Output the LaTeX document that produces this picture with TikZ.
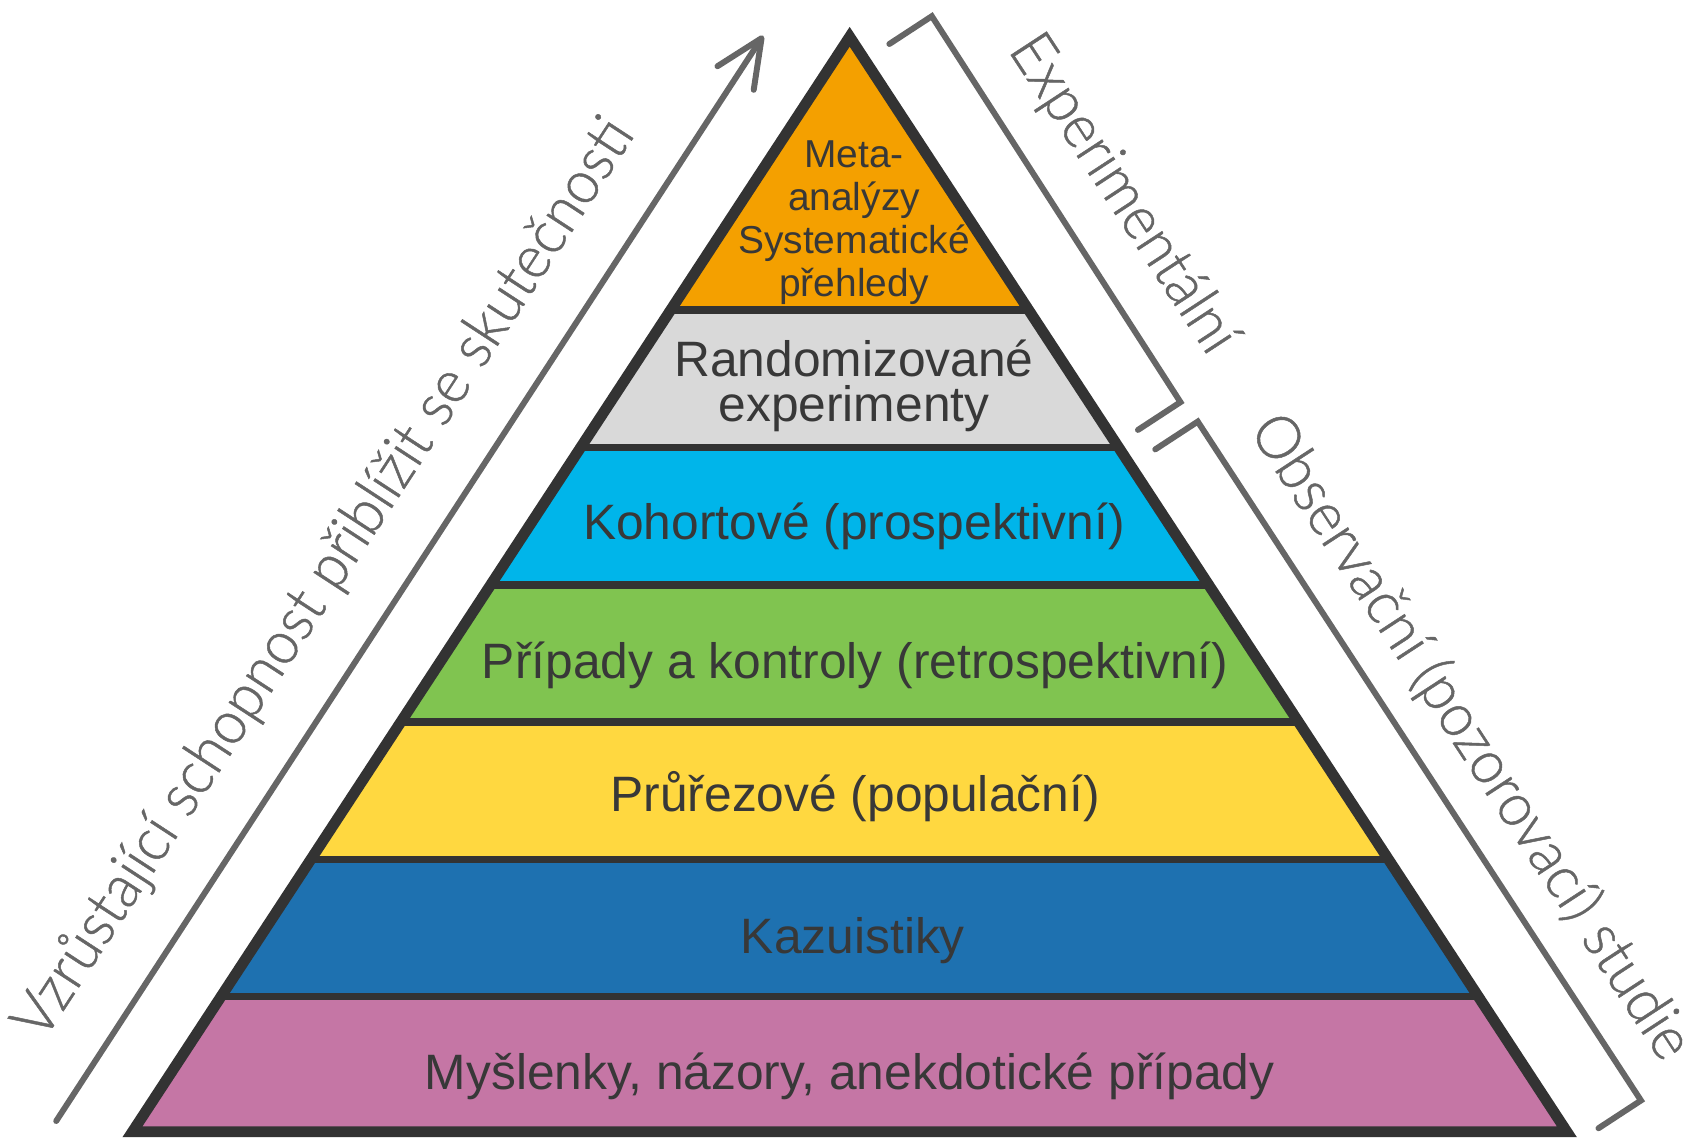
\documentclass[tikz,border=0pt]{standalone}
\usepackage{fontspec}
\setmainfont{Liberation Sans}
\newfontfamily\sidefont[FakeStretch=0.95,FakeBold=0.8]{Lato Light}
\usetikzlibrary{arrows.meta}
\definecolor{cOrange}{HTML}{F4A000}
\definecolor{cGray}{HTML}{D9D9D9}
\definecolor{cCyan}{HTML}{00B5EA}
\definecolor{cGreen}{HTML}{80C450}
\definecolor{cYellow}{HTML}{FFD840}
\definecolor{cBlue}{HTML}{1E71B0}
\definecolor{cPink}{HTML}{C576A5}
\definecolor{cStroke}{HTML}{333333}
\definecolor{cText}{HTML}{383838}
\definecolor{cSide}{HTML}{666666}
\begin{document}
\begin{tikzpicture}[x=1pt,y=-1pt,
  bandtext/.style={inner sep=0pt, text=cText, align=center, font=\fontsize{46}{41}\selectfont},
  toptext/.style={inner sep=0pt, text=cText, align=center, font=\fontsize{36}{39.5}\selectfont},
  sidetext/.style={inner sep=0pt, text=cSide, font=\sidefont\fontsize{56}{60}\selectfont},
  divider/.style={draw=cStroke, line width=7pt},
  outline/.style={draw=cStroke, line width=10pt, line join=miter},
  bracket/.style={draw=cSide, line width=5.5pt, line cap=round, line join=miter},
  rise/.style={draw=cSide, line width=5.5pt, line cap=round,
    -{Straight Barb[length=44pt,width=40pt,round]}}
]
\useasboundingbox (0,0) rectangle (1568,1053);
% pyramid corner points
\coordinate (A) at (786,34);
\coordinate (L1) at (620.3,287);  \coordinate (R1) at (951.7,287);
\coordinate (L2) at (537.1,414);  \coordinate (R2) at (1034.9,414);
\coordinate (L3) at (453.9,541);  \coordinate (R3) at (1118.1,541);
\coordinate (L4) at (370.7,668);  \coordinate (R4) at (1201.3,668);
\coordinate (L5) at (287.5,795);  \coordinate (R5) at (1284.5,795);
\coordinate (L6) at (204.4,922);  \coordinate (R6) at (1367.6,922);
\coordinate (L7) at (122.5,1047); \coordinate (R7) at (1449.5,1047);
% bands
\fill[cOrange] (A) -- (R1) -- (L1) -- cycle;
\fill[cGray]   (L1) -- (R1) -- (R2) -- (L2) -- cycle;
\fill[cCyan]   (L2) -- (R2) -- (R3) -- (L3) -- cycle;
\fill[cGreen]  (L3) -- (R3) -- (R4) -- (L4) -- cycle;
\fill[cYellow] (L4) -- (R4) -- (R5) -- (L5) -- cycle;
\fill[cBlue]   (L5) -- (R5) -- (R6) -- (L6) -- cycle;
\fill[cPink]   (L6) -- (R6) -- (R7) -- (L7) -- cycle;
\foreach \i in {1,...,6}{\draw[divider] (L\i) -- (R\i);}
\draw[outline] (A) -- (R7) -- (L7) -- cycle;
% band labels
\node[toptext] (meta) at (790,206) {Meta-\\analýzy\\Systematické\\přehledy};
\node[bandtext] (rct) at (790,357) {Randomizované\\experimenty};
\node[bandtext, anchor=base] (coh) at (790,499) {Kohortové (prospektivní)};
\node[bandtext, anchor=base] (cc) at (791,628) {Případy a kontroly (retrospektivní)};
\node[bandtext, anchor=base] (cross) at (791,751) {Průřezové (populační)};
\node[bandtext, anchor=base] (case) at (789,882) {Kazuistiky};
\node[bandtext, anchor=base] (idea) at (786,1008) {Myšlenky, názory, anekdotické případy};
% rising arrow
\coordinate (arrS) at (52,1037);
\coordinate (arrE) at (706,33);
\draw[rise] (arrS) -- (arrE);
\node[sidetext, rotate=56.87] (risetxt) at (301,536) {Vzrůstající schopnost přiblížit se skutečnosti};
% brackets
\coordinate (e1) at (822.7,40.7);  \coordinate (e2) at (862,15);
\coordinate (e3) at (1092,372);    \coordinate (e4) at (1052.7,397.7);
\draw[bracket] (e1) -- (e2) -- (e3) -- (e4);
\coordinate (o1) at (1068.7,415.7); \coordinate (o2) at (1108,390);
\coordinate (o3) at (1518,1018);    \coordinate (o4) at (1478.7,1043.7);
\draw[bracket] (o1) -- (o2) -- (o3) -- (o4);
\node[sidetext, rotate=-56.8] (exptxt) at (1038,180) {Experimentální};
\node[sidetext, rotate=-56.85] (obstxt) at (1360,682) {Observační (pozorovací) studie};
\end{tikzpicture}
\end{document}
